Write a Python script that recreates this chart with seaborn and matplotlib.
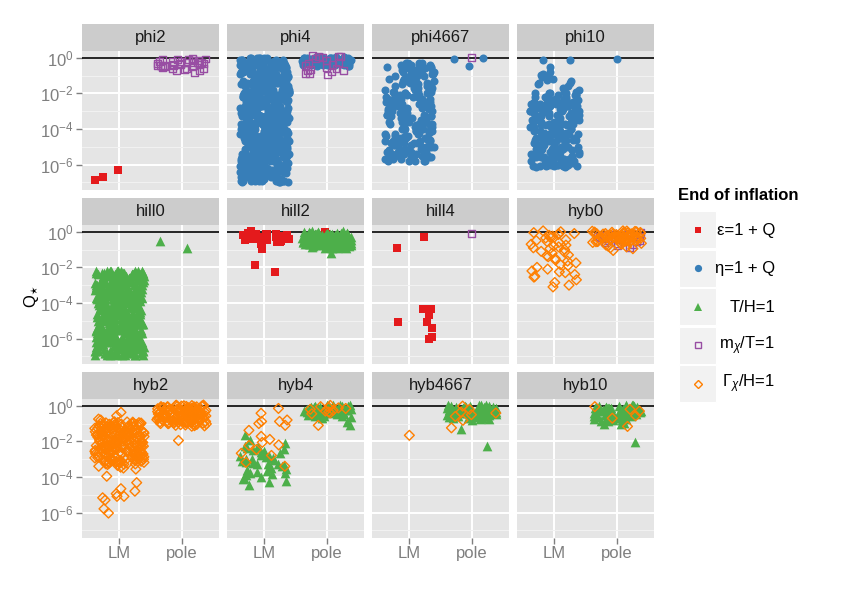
import numpy as np
import pandas as pd
import matplotlib
matplotlib.use("Agg")
import matplotlib.pyplot as plt
import seaborn as sns
from matplotlib.ticker import FixedLocator, NullFormatter, FixedFormatter
from matplotlib.patches import Rectangle

# ---------------- data (log10 of Q_star) ----------------
models = ["phi2", "phi4", "phi4667", "phi10", "hill0", "hill2", "hill4", "hyb0",
          "hyb2", "hyb4", "hyb4667", "hyb10"]
end_types = ["eps", "eta", "TH", "mchi", "Gam"]
classes = ["LM", "pole"]
tick_exps = [0, -2, -4, -6]
minor_exps = [-1, -3, -5, -7]
tick_labels = [r"$10^{0}$", r"$10^{-2}$", r"$10^{-4}$", r"$10^{-6}$"]
legend_title = "End of inflation"
legend_labels = ["ε=1 + Q", "η=1 + Q", "T/H=1", r"m$_{\chi}$/T=1", r"$\Gamma_{\chi}$/H=1"]

phi2_eps_LM = [-6.72, -6.89, -6.31]
phi2_mchi_pole = [-0.05, -0.12, -0.31, -0.45, -0.22, -0.6, -0.38, -0.15, -0.52, -0.28, -0.7, -0.41,
                  -0.09, -0.33, -0.56, -0.19, -0.48, -0.82, -0.25, -0.36, -0.63, -0.11, -0.44, -0.29,
                  -0.58, -0.2, -0.39, -0.74, -0.16, -0.5, -0.27, -0.66, -0.34, -0.07, -0.43]

phi4_eta_LM = [
    -0.0, -0.4, -0.8, -1.1, -1.5, -1.8, -2.2, -2.5, -2.9, -3.2, -3.6, -3.9, -4.3, -4.6, -5.0, -5.3, -5.7, -6.0, -6.4, -6.8,
    -0.2, -0.5, -0.9, -1.3, -1.6, -2.0, -2.3, -2.7, -3.0, -3.4, -3.7, -4.1, -4.4, -4.8, -5.1, -5.5, -5.8, -6.2, -6.5, -6.9,
    -0.1, -0.3, -0.7, -1.0, -1.4, -1.7, -2.1, -2.4, -2.8, -3.1, -3.5, -3.8, -4.2, -4.5, -4.9, -5.2, -5.6, -5.9, -6.3, -6.6,
    -0.6, -1.2, -1.9, -2.6, -3.3, -4.0, -4.7, -5.4, -6.1, -6.7, -0.3, -1.0, -1.6, -2.3, -3.0, -3.6, -4.4, -5.0, -5.7, -6.4,
    -0.0, -0.9, -1.5, -2.4, -2.9, -3.7, -4.2, -4.9, -5.5, -6.2, -7.0, -0.5, -1.2, -1.8, -2.7, -3.4, -4.1, -4.6, -5.3, -6.0,
    -0.2, -0.8, -1.4, -2.0, -2.6, -3.2, -3.9, -4.5, -5.1, -5.8, -6.5, -0.6, -1.1, -1.7, -2.2, -2.9, -3.5, -4.3, -4.8, -5.6,
    -6.9, -6.3, -5.9, -5.2, -4.7, -4.0, -3.3, -2.8, -2.1, -1.6, -0.9, -0.4, -6.6, -5.4, -4.4, -3.7, -3.0, -2.5, -1.3, -0.7,
    -0.1, -0.6, -1.3, -1.9, -2.4, -3.1, -3.6, -4.2, -4.9, -5.5, -6.1, -6.8, -0.3, -1.0, -1.8, -2.6, -3.3, -4.0, -4.7, -5.9,
    -6.7, -6.0, -5.4, -4.8, -4.1, -3.5, -2.9, -2.3, -1.7, -1.1, -0.5, -0.0, -6.4, -5.7, -5.0, -4.5, -3.8, -3.2, -2.0, -1.4,
    -0.4, -0.9, -1.6, -2.2, -2.8, -3.4, -4.1, -4.6, -5.3, -5.8, -6.5, -7.0, -0.7, -1.5, -2.5, -3.1, -3.9, -4.8, -5.6, -6.2,
    -0.2, -1.1, -1.8, -2.6, -3.5, -4.3, -5.1, -5.9, -6.6, -0.8, -1.4, -2.1, -2.9, -3.7, -4.6, -5.4, -6.1, -6.9, -0.5, -3.2,
    -6.3, -5.5, -4.7, -3.9, -3.0, -2.3, -1.5, -0.6, -0.1, -1.2, -2.0, -2.7, -3.6, -4.4, -5.2, -6.0, -6.8, -4.9, -1.9, -0.3,
    -0.0, -0.7, -1.4, -2.1, -2.9, -3.6, -4.2, -5.0, -5.7, -6.4, -6.9, -0.4, -1.2, -1.9, -2.5, -3.3, -4.0, -4.7, -5.3, -6.1,
    -6.6, -5.8, -5.1, -4.5, -3.8, -3.1, -2.4, -1.7, -1.0, -0.2, -0.8, -1.6, -2.3, -3.0, -3.7, -4.3, -5.2, -5.9, -6.5, -4.1,
    -0.5, -1.3, -2.0, -2.8, -3.4, -4.1, -4.9, -5.6, -6.3, -7.0, -0.1, -0.9, -1.5, -2.2, -3.0, -3.8, -4.6, -5.4, -6.2, -6.7,
    -0.3, -1.1, -1.9, -2.7, -3.5, -4.2, -4.8, -5.5, -6.0, -6.8, -0.6, -1.4, -2.2, -2.9, -3.6, -4.4, -5.1, -5.8, -6.4, -2.4,
    -6.9, -6.1, -5.3, -4.6, -3.9, -3.2, -2.5, -1.8, -1.0, -0.2, -0.7, -1.6, -2.1, -3.1, -3.7, -4.5, -5.0, -5.7, -6.6, -4.0,
    -0.0, -0.6, -1.2, -1.7, -2.3, -2.9, -3.4, -4.0, -4.7, -5.2, -5.9, -6.5, -0.4, -1.0, -1.8, -2.6, -3.3, -4.3, -5.5, -6.3,
    -0.8, -1.5, -2.4, -3.0, -3.8, -4.4, -5.1, -5.7, -6.4, -6.9, -0.1, -0.5, -1.3, -2.0, -2.8, -3.5, -4.1, -4.9, -5.6, -6.2,
    -0.3, -0.9, -1.7, -2.5, -3.2, -3.9, -4.6, -5.3, -6.0, -6.7, -0.2, -1.1, -1.9, -2.7, -3.4, -4.2, -5.0, -5.8, -6.5, -3.6,
    -6.8, -6.2, -5.6, -4.9, -4.3, -3.6, -3.0, -2.3, -1.6, -0.9, -0.4, -0.0, -1.4, -2.2, -2.9, -3.7, -4.5, -5.2, -5.9, -6.6,
    -0.6, -1.2, -2.0, -2.6, -3.3, -4.0, -4.8, -5.4, -6.1, -6.9, -0.2, -0.8, -1.5, -2.1, -2.8, -3.5, -4.2, -4.6, -5.5, -6.3,
    -0.3, -1.0, -1.7, -2.4, -3.1, -3.8, -4.5, -5.2, -5.9, -6.6, -0.7, -1.4, -2.1, -2.8, -3.5, -4.2, -4.9, -5.6, -6.3, -7.0,
    -0.1, -0.8, -1.5, -2.2, -2.9, -3.6, -4.3, -5.0, -5.7, -6.4, -0.5, -1.2, -1.9, -2.6, -3.3, -4.0, -4.7, -5.4, -6.1, -6.8,
    -6.9, -6.2, -5.5, -4.8, -4.1, -3.4, -2.7, -2.0, -1.3, -0.6, -6.5, -5.8, -5.1, -4.4, -3.7, -3.0, -2.3, -1.6, -0.9, -0.2,
    -0.4, -1.1, -1.8, -2.5, -3.2, -3.9, -4.6, -5.3, -6.0, -6.7, -0.0, -0.9, -1.6, -2.3, -3.0, -3.7, -4.4, -5.1, -5.8, -6.5,
    -6.8, -6.1, -5.4, -4.7, -4.0, -3.3, -2.6, -1.9, -1.2, -0.5, -6.4, -5.7, -5.0, -4.3, -3.6, -2.9, -2.2, -1.5, -0.8, -0.1,
    -0.3, -1.3, -2.0, -2.7, -3.4, -4.1, -4.8, -5.5, -6.2, -6.9, -0.6, -1.7, -2.5, -3.5, -4.5, -5.3, -6.0, -6.6, -0.2, -3.9]
phi4_eta_pole = [0.05, -0.05, -0.12, -0.2, -0.28, -0.35, -0.42, -0.02, -0.09, -0.16, -0.24, -0.31, -0.38, -0.45,
                 0.03, -0.07, -0.14, -0.22, -0.29, -0.36, -0.04, -0.11, -0.18, -0.26, -0.33, -0.4, 0.0, -0.08,
                 -0.15, -0.23, -0.3, -0.37, -0.44, -0.01, -0.1, -0.17, -0.25, -0.32, -0.39, -0.06, -0.13, -0.21,
                 -0.27, -0.34, -0.41, 0.02, -0.03, -0.12, -0.19, -0.26, -0.33, -0.43, -0.05, -0.09, -0.16, -0.22,
                 -0.29, -0.36, -0.47, 0.01, -0.07, -0.14, -0.2, -0.28, -0.35, -0.02, -0.11, -0.18, -0.25, -0.31,
                 -0.38, -0.04, -0.1, -0.15, -0.21, -0.3, 0.04, -0.06, -0.13, -0.24]
phi4_mchi_pole = [0.12, 0.08, 0.05, 0.02, 0.1, -0.02, -0.3, -0.45, -0.69, -0.72, -0.86, -0.9, -0.97, -0.6,
                  -0.55, -0.4, -0.15, -0.25, -0.8, -0.66]

phi4667_eta_LM = [
    -0.4, -0.8, -1.1, -1.5, -1.9, -2.2, -2.6, -2.9, -3.3, -3.6, -4.0, -4.3, -4.7, -5.0, -5.4, -5.7, -0.6,
    -5.8, -5.3, -4.9, -4.4, -4.1, -3.7, -3.2, -2.8, -2.4, -2.0, -1.6, -1.2, -0.9, -0.5, -3.9, -2.5, -1.4,
    -0.3, -0.7, -1.3, -1.8, -2.3, -2.7, -3.1, -3.5, -4.2, -4.6, -5.1, -5.5, -5.8, -1.0, -2.1, -3.0, -4.8,
    -5.6, -5.2, -4.5, -3.8, -3.4, -2.9, -2.5, -1.7, -1.3, -0.8, -0.4, -1.9, -2.6, -4.1, -4.9, -5.4, -3.6,
    -0.5, -0.9, -1.5, -2.0, -2.4, -3.0, -3.4, -3.9, -4.4, -4.8, -5.3, -5.7, -1.1, -1.7, -2.8, -4.3, -0.3,
    -5.5, -5.0, -4.6, -4.0, -3.7, -3.1, -2.6, -2.2, -1.6, -1.2, -0.6, -0.4, -1.9, -3.3, -4.7, -5.8, -2.9,
    -0.7, -1.0, -1.4, -2.1, -2.5, -3.2, -3.6, -4.1, -4.5, -5.0, -5.6, -0.5, -1.8, -2.7, -3.8, -4.9, -5.3,
    -5.7, -5.1, -4.4, -3.5, -2.9, -2.3, -1.5, -0.9, -0.4, -1.3, -2.0, -3.1, -4.2, -4.7, -5.4, -3.7, -2.6,
    -0.6, -1.2, -1.7, -2.4, -3.0, -3.4, -3.9, -4.3, -4.9, -5.5, -0.3, -1.0, -2.2, -2.8, -4.5, -5.2, -5.8,
    -5.4, -4.8, -4.1, -3.3, -2.7, -2.1, -1.4, -0.7, -0.5, -1.6, -2.5, -3.6, -4.6, -5.1, -5.6, -0.9, -3.8,
    -0.5, -1.3, -2.0, -2.7, -3.4, -4.0, -4.7, -5.3, -5.8, -0.8, -1.6, -2.3, -3.0, -3.7, -4.4, -5.0, -5.6,
    -0.4, -1.1, -1.8, -2.5, -3.2, -3.9, -4.6, -5.2, -5.7, -0.7, -1.4, -2.1, -2.9, -3.5, -4.2, -4.8, -5.5,
    -0.3, -1.9, -3.3, -4.5, -2.6, -1.0]
phi4667_eta_pole = [0.0, -0.47, -0.05]
phi4667_mchi_pole = [0.0]

phi10_eta_LM = [
    -0.5, -0.13, -0.13, -0.8, -0.9, -1.0, -1.1, -1.2, -1.3, -1.4, -1.5, -0.95, -1.25,
    -1.7, -2.0, -2.3, -2.6, -2.9, -3.2, -3.5, -3.8, -4.1, -4.4, -4.7, -5.0, -5.3, -5.6, -5.9,
    -6.1, -5.8, -5.5, -5.2, -4.9, -4.6, -4.3, -4.0, -3.7, -3.4, -3.1, -2.8, -2.5, -2.2, -1.9,
    -2.1, -2.4, -2.7, -3.0, -3.3, -3.6, -3.9, -4.2, -4.5, -4.8, -5.1, -5.4, -5.7, -6.0, -6.15,
    -6.0, -5.7, -5.3, -4.9, -4.5, -4.1, -3.7, -3.3, -2.9, -2.5, -2.1, -1.8, -3.5, -4.7, -5.5,
    -2.2, -2.6, -3.0, -3.4, -3.8, -4.2, -4.6, -5.0, -5.4, -5.8, -6.1, -2.4, -3.2, -4.4, -5.2,
    -6.1, -5.6, -5.1, -4.7, -4.3, -3.9, -3.5, -3.1, -2.7, -2.3, -2.0, -2.9, -4.0, -4.8, -5.9,
    -1.6, -2.2, -2.8, -3.3, -3.8, -4.3, -4.8, -5.3, -5.8, -6.1, -2.5, -3.0, -3.6, -4.4, -5.6,
    -6.0, -5.5, -5.0, -4.5, -4.0, -3.5, -3.0, -2.5, -2.0, -2.7, -3.4, -4.2, -5.1, -5.7, -6.15,
    -2.3, -2.9, -3.4, -3.9, -4.5, -5.0, -5.5, -6.0, -2.6, -3.1, -3.7, -4.3, -4.9, -5.4, -5.9,
    -6.1, -5.7, -5.2, -4.6, -4.1, -3.6, -3.2, -2.6, -2.1, -2.8, -3.5, -4.6, -5.3, -5.8, -6.0,
    -2.4, -3.0, -3.7, -4.3, -4.9, -5.5, -6.1, -2.7, -3.3, -3.9, -4.5, -5.1, -5.6, -6.0, -5.9,
    -2.0, -2.5, -3.0, -3.5, -4.0, -4.5, -5.0, -5.5, -6.0, -2.2, -2.7, -3.2, -3.7, -4.2, -4.7,
    -5.2, -5.7, -6.1, -2.4, -2.9, -3.4, -3.9, -4.4, -4.9, -5.4, -5.9, -2.1, -2.6, -3.1, -3.6,
    -4.1, -4.6, -5.1, -5.6, -6.05, -2.8, -3.3, -3.8, -4.3, -4.8, -5.3, -5.8, -1.9, -1.4, -1.1]
phi10_eta_pole = [-0.05]

hill0_TH_LM = [
    -2.2, -2.5, -2.8, -3.1, -3.4, -3.7, -4.0, -4.3, -4.6, -4.9, -5.2, -5.5, -5.8, -6.1, -6.4, -6.7,
    -2.3, -2.6, -2.9, -3.2, -3.5, -3.8, -4.1, -4.4, -4.7, -5.0, -5.3, -5.6, -5.9, -6.2, -6.5, -6.8,
    -2.4, -2.7, -3.0, -3.3, -3.6, -3.9, -4.2, -4.5, -4.8, -5.1, -5.4, -5.7, -6.0, -6.3, -6.6, -6.9,
    -6.8, -6.4, -5.9, -5.5, -5.0, -4.6, -4.1, -3.7, -3.2, -2.8, -2.3, -2.5, -3.5, -4.4, -5.3, -6.2,
    -2.2, -2.9, -3.6, -4.3, -5.0, -5.7, -6.4, -2.6, -3.3, -4.0, -4.7, -5.4, -6.1, -6.8, -3.0, -4.9,
    -6.6, -6.0, -5.2, -4.5, -3.8, -3.1, -2.4, -2.7, -3.4, -4.2, -4.8, -5.6, -6.3, -6.9, -2.2, -3.9,
    -2.5, -3.2, -3.8, -4.5, -5.1, -5.8, -6.5, -2.3, -2.9, -3.6, -4.3, -5.0, -5.6, -6.2, -6.8, -4.0,
    -6.7, -6.1, -5.4, -4.7, -4.1, -3.4, -2.7, -2.2, -3.0, -3.7, -4.4, -5.1, -5.8, -6.4, -2.5, -5.5,
    -2.4, -3.1, -3.9, -4.6, -5.3, -6.0, -6.7, -2.8, -3.5, -4.2, -4.9, -5.7, -6.3, -6.9, -2.2, -3.3,
    -6.5, -5.9, -5.2, -4.4, -3.7, -3.0, -2.3, -2.6, -3.4, -4.1, -4.8, -5.5, -6.2, -6.8, -4.6, -3.8,
    -2.3, -2.8, -3.4, -4.0, -4.6, -5.2, -5.8, -6.4, -6.9, -2.5, -3.1, -3.7, -4.3, -4.9, -5.5, -6.1,
    -6.6, -6.3, -5.7, -5.1, -4.5, -3.9, -3.3, -2.7, -2.2, -2.9, -3.5, -4.1, -4.7, -5.3, -5.9, -6.5,
    -2.4, -3.0, -3.6, -4.2, -4.8, -5.4, -6.0, -6.7, -2.6, -3.2, -3.8, -4.4, -5.0, -5.6, -6.2, -6.8,
    -6.9, -6.4, -5.8, -5.2, -4.6, -4.0, -3.4, -2.8, -2.3, -2.5, -3.1, -3.7, -4.3, -4.9, -5.5, -6.1,
    -2.2, -2.7, -3.3, -3.9, -4.5, -5.1, -5.7, -6.3, -6.8, -3.0, -3.6, -4.2, -4.8, -5.4, -6.0, -6.6,
    -6.7, -6.2, -5.6, -5.0, -4.4, -3.8, -3.2, -2.6, -2.3, -2.9, -3.5, -4.1, -4.7, -5.3, -5.9, -6.5,
    -2.5, -3.1, -3.7, -4.4, -5.0, -5.6, -6.2, -6.9, -2.4, -2.8, -3.4, -4.0, -4.6, -5.2, -5.8, -6.4,
    -6.8, -6.1, -5.5, -4.9, -4.3, -3.6, -3.0, -2.4, -2.2, -2.7, -3.3, -3.9, -4.5, -5.1, -5.7, -6.3,
    -2.3, -2.9, -3.5, -4.1, -4.7, -5.3, -5.9, -6.6, -2.6, -3.2, -3.8, -4.4, -5.0, -5.6, -6.2, -6.9,
    -6.5, -6.0, -5.4, -4.8, -4.2, -3.6, -3.0, -2.4, -2.8, -3.4, -4.0, -4.6, -5.2, -5.8, -6.4, -6.7,
    -2.2, -2.6, -3.0, -3.4, -3.8, -4.2, -4.6, -5.0, -5.4, -5.8, -6.2, -6.6, -2.4, -3.2, -4.4, -5.6,
    -6.9, -6.5, -6.1, -5.7, -5.3, -4.9, -4.5, -4.1, -3.7, -3.3, -2.9, -2.5, -6.3, -5.1, -3.9, -2.7,
    -2.3, -2.8, -3.3, -3.8, -4.3, -4.8, -5.3, -5.8, -6.3, -6.8, -2.5, -3.5, -4.5, -5.5, -6.5, -3.0,
    -6.7, -6.0, -5.2, -4.7, -4.0, -3.6, -3.1, -2.6, -2.2, -2.9, -3.7, -4.6, -5.4, -6.2, -6.9, -4.2,
    -2.4, -3.0, -3.6, -4.1, -4.7, -5.2, -5.7, -6.1, -6.6, -2.7, -3.4, -4.0, -4.8, -5.5, -6.4, -2.3,
    -6.8, -6.3, -5.6, -5.0, -4.4, -3.9, -3.2, -2.8, -2.2, -3.5, -4.3, -4.9, -5.9, -6.7, -2.6, -3.8]
hill0_TH_pole = [-0.53, -0.94]

hill2_eps_LM = [-0.1, -0.3, -0.2, -0.45, -0.15, -0.55, -0.25, -0.35, -0.6, -0.05, -0.4, -0.2, -0.5, -0.3,
                -0.7, -0.15, -0.35, -0.95, -0.25, -0.45, -0.1, -0.6, -0.3, -0.4, 0.05, -0.2, -1.84, -2.28]
hill2_eps_pole = [-0.15, 0.0]
hill2_TH_pole = [
    -0.02, -0.12, -0.25, -0.38, -0.51, -0.63, -0.77, -0.88, -0.08, -0.19, -0.31, -0.44, -0.57, -0.7, -0.83,
    -0.05, -0.16, -0.28, -0.4, -0.53, -0.66, -0.79, -0.9, -0.1, -0.22, -0.35, -0.47, -0.6, -0.73, 0.03,
    -0.13, -0.26, -0.39, -0.5, -0.62, -0.75, -0.86, -0.04, -0.18, -0.3, -0.42, -0.55, -0.68, -0.8, -0.09,
    -0.2, -0.33, -0.46, -0.58, -0.71, -0.84, -0.06, -0.15, -0.27, -0.41, -0.54, -0.65, -0.78, -0.92, -0.11,
    -0.01, -0.14, -0.24, -0.37, -0.49, -0.61, -0.74, -0.87, -0.07, -0.21, -0.34, -0.45, -0.59, -0.69, -0.82,
    -0.03, -0.17, -0.29, -0.43, -0.52, -0.64, -0.76, -0.89, -0.12, -0.23, -0.36, -0.48, -0.56, -0.72, -0.85,
    0.02, -0.1, -0.2, -0.32, -0.44, -0.57, -0.67, -0.81, -0.05, -0.16, -0.28, -0.39, -0.5, -0.63, -0.75,
    -0.08, -0.19, -0.3, -0.41, -0.53, -0.6, -0.7, -0.94, -0.14, -0.25, -0.37, -0.46, -0.58, -1.2, -0.65]

hill4_eps_LM = [-0.28, -0.94, -4.34, -4.64, -4.65, -4.34, -5.06, -5.09, -5.39, -5.9, -6.03]
hill4_mchi_pole = [-0.11]

hyb0_Gam_LM = [0.05, -0.05, -0.15, -0.1, -0.25, -0.2, 0.0, -0.3, -0.12, -0.35, -0.5, -0.6, -0.75, -0.45,
               -0.85, -0.9, -1.0, -1.1, -0.7, -1.2, -1.3, -1.4, -0.95, -1.15, -1.5, -1.6, -1.75, -1.35,
               -1.85, -2.0, -1.9, -2.1, -2.3, -2.25, -2.4, -2.5, -2.55, -2.7, -2.85, -3.0, -3.1, -2.2,
               -1.65, -0.55, -0.8]
hyb0_mchi_pole = [-0.1, -0.2, -0.3, -0.45, -0.55, -0.65, -0.8, -0.15, -0.25, -0.35, -0.5, -0.6, -0.4,
                  -0.7, -0.05, -0.9, -0.28, -0.38, -0.18, -0.48]
hyb0_Gam_pole = [0.05, -0.05, -0.15, -0.25, -0.35, -0.45, -0.55, 0.02, -0.08, -0.18, -0.28, -0.38, -0.48,
                 -0.6, 0.0, -0.1, -0.2, -0.3, -0.4, -0.5, -0.65, -0.03, -0.13, -0.23, -0.33, -0.43, -0.53,
                 -0.7, 0.04, -0.07, -0.17, -0.27, -0.37, -0.47, -0.58, -0.02, -0.12, -0.22, -0.32, -0.42,
                 -0.52, -0.75, -0.06, -0.16, -0.26, -0.36, -0.46, -0.62, 0.03, -0.09, -0.19, -0.29, -0.39,
                 -0.49, -0.85, -0.95, -1.05, -0.8, -0.04, -0.14, -0.24, -0.34, -0.44, -0.56, -0.9, -0.11,
                 -0.21, -0.31, -0.41, -0.68]

hyb2_Gam_LM = [
    -0.9, -1.07, -1.2, -1.33, -1.52, -1.64, -1.81, -1.95, -2.12, -2.24, -2.41, -2.56, -2.69, -2.86, -3.01, -3.14,
    -0.95, -1.11, -1.26, -1.38, -1.55, -1.71, -1.84, -2.0, -2.17, -2.3, -2.44, -2.61, -2.74, -2.91, -3.04, -3.2,
    -1.01, -1.16, -1.29, -1.46, -1.6, -1.76, -1.9, -2.06, -2.2, -2.36, -2.5, -2.66, -2.8, -2.96, -3.11, -3.26,
    -3.2, -2.9, -2.6, -2.3, -2.0, -1.7, -1.4, -1.1, -0.92, -1.23, -1.52, -1.83, -2.12, -2.42, -2.72, -3.02,
    -0.98, -1.28, -1.58, -1.88, -2.18, -2.48, -2.78, -3.08, -1.13, -1.43, -1.73, -2.03, -2.33, -2.63, -2.93, -3.3,
    -3.12, -2.82, -2.52, -2.22, -1.92, -1.62, -1.32, -1.02, -1.17, -1.47, -1.77, -2.07, -2.37, -2.67, -2.97, -0.93,
    -1.07, -1.37, -1.67, -1.97, -2.27, -2.57, -2.87, -3.17, -0.96, -1.26, -1.56, -1.86, -2.16, -2.46, -2.76, -3.06,
    -3.27, -2.97, -2.67, -2.37, -2.07, -1.77, -1.47, -1.17, -1.04, -1.34, -1.64, -1.94, -2.24, -2.54, -2.84, -3.14,
    -0.91, -1.21, -1.51, -1.81, -2.11, -2.41, -2.71, -3.01, -1.09, -1.39, -1.69, -1.99, -2.29, -2.59, -2.89, -3.19,
    -3.04, -2.74, -2.44, -2.14, -1.84, -1.54, -1.24, -0.94, -1.14, -1.44, -1.74, -2.04, -2.34, -2.64, -2.94, -3.24,
    -0.97, -1.27, -1.57, -1.87, -2.17, -2.47, -2.77, -3.07, -1.12, -1.42, -1.72, -2.02, -2.32, -2.62, -2.92, -3.22,
    -3.09, -2.79, -2.49, -2.19, -1.89, -1.59, -1.29, -0.99, -1.19, -1.49, -1.79, -2.09, -2.39, -2.69, -2.99, -3.29,
    -1.03, -1.33, -1.63, -1.93, -2.23, -2.53, -2.83, -3.13, -1.08, -1.38, -1.68, -1.98, -2.28, -2.58, -2.88, -3.18,
    -0.37, -0.56, -0.75, -0.8, -3.35, -3.45, -3.56, -3.4, -3.5, -3.96, -4.32, -4.66, -4.8, -4.94, -5.09,
    -5.3, -5.17, -5.79, -5.09, -6.03]
hyb2_Gam_pole = [
    0.02, -0.08, -0.17, -0.26, -0.35, -0.44, -0.53, -0.62, -0.71, -0.8, -0.89, -0.98, -1.08,
    -0.03, -0.12, -0.21, -0.3, -0.39, -0.48, -0.57, -0.66, -0.75, -0.84, -0.93, -1.02, -1.13,
    0.04, -0.05, -0.14, -0.24, -0.33, -0.41, -0.5, -0.6, -0.69, -0.77, -0.87, -0.96, -1.05,
    -0.01, -0.1, -0.19, -0.28, -0.37, -0.46, -0.55, -0.64, -0.73, -0.82, -0.91, -1.0, -1.15,
    0.01, -0.06, -0.15, -0.23, -0.32, -0.42, -0.51, -0.59, -0.68, -0.78, -0.86, -0.95, -1.1,
    -0.04, -0.11, -0.2, -0.29, -0.38, -0.47, -0.56, -0.65, -0.74, -0.83, -0.92, -1.01, -0.02,
    0.03, -0.07, -0.16, -0.25, -0.34, -0.43, -0.52, -0.61, -0.7, -0.79, -0.88, -0.97, -1.06,
    -0.02, -0.09, -0.18, -0.27, -0.36, -0.45, -0.54, -0.63, -0.72, -0.81, -0.9, -0.99, -1.12,
    0.0, -0.13, -0.22, -0.31, -0.4, -0.49, -0.58, -0.67, -0.76, -0.85, -0.94, -1.04, -0.45,
    -0.05, -0.14, -0.23, -0.33, -0.42, -0.5, -0.6, -0.7, -0.8, -0.9, -0.35, -0.25, -1.95]

hyb4_TH_LM = [-1.95, -1.67, -2.1, -2.25, -2.35, -2.4, -2.5, -2.55, -2.6, -2.7, -2.75, -2.8, -2.85, -2.9,
              -3.0, -3.05, -3.1, -3.15, -3.2, -3.25, -3.3, -3.35, -3.4, -3.5, -3.55, -3.6, -3.7, -3.75,
              -3.8, -3.9, -4.0, -4.1, -4.2, -4.3, -4.45, -2.45, -2.65, -2.95, -3.45, -3.65, -3.85, -4.05,
              -2.3, -3.0, -3.3]
hyb4_Gam_LM = [-0.15, -0.42, -0.88, -0.8, -1.38, -0.88, -1.1, -1.72, -1.89, -2.23, -2.79, -3.18, -3.4,
               -2.67, -2.46, -2.06, -2.2, -1.0]
hyb4_TH_pole = [0.05, -0.02, -0.08, -0.14, -0.2, -0.26, -0.32, -0.38, -0.44, -0.5, 0.02, -0.05, -0.11,
                -0.17, -0.23, -0.29, -0.35, -0.41, -0.47, -0.55, 0.0, -0.04, -0.1, -0.16, -0.22, -0.28,
                -0.34, -0.4, -0.46, -0.52, 0.03, -0.07, -0.13, -0.19, -0.25, -0.31, -0.37, -0.43, -0.6,
                -0.01, -0.06, -0.12, -0.18, -0.24, -0.3, -0.36, -0.42, -0.48, -0.65, 0.04, -0.09, -0.15,
                -0.21, -0.27, -0.33, -0.39, -0.7, -0.03, -0.13, -0.2, -0.45, -0.58, -1.1, -0.94]
hyb4_Gam_pole = [-0.05, -0.15, -0.25, -0.35, -0.1, -0.3, -0.45, 0.02, -0.2, -1.1, -0.4, -0.12]

hyb4667_Gam_LM = [-1.66]
hyb4667_TH_pole = [0.05, -0.03, -0.1, -0.17, -0.24, -0.31, -0.38, -0.45, -0.52, -0.6, -0.68, 0.02, -0.06,
                   -0.13, -0.2, -0.27, -0.34, -0.41, -0.48, -0.56, -0.64, -0.75, 0.0, -0.08, -0.15, -0.22,
                   -0.29, -0.36, -0.43, -0.5, -0.58, -0.7, 0.04, -0.05, -0.12, -0.19, -0.26, -0.33, -0.4,
                   -0.47, -0.54, -0.62, -0.8, -0.01, -0.09, -0.16, -0.23, -0.3, -0.37, -0.44, -0.51, -0.66,
                   0.03, -0.11, -0.18, -0.25, -0.32, -0.39, -0.46, -0.55, -0.72, -0.04, -0.14, -0.21, -0.28,
                   -0.35, -0.42, -0.49, -1.3, -2.24]
hyb4667_Gam_pole = [-0.41, -0.35, -1.24, -0.82, -0.5, -0.6, -0.2, -0.02]

hyb10_TH_pole = [0.04, -0.04, -0.11, -0.18, -0.25, -0.32, -0.39, -0.46, -0.53, -0.61, -0.7, -0.82, 0.01,
                 -0.07, -0.14, -0.21, -0.28, -0.35, -0.42, -0.49, -0.57, -0.66, -0.78, -0.95, 0.03, -0.02,
                 -0.09, -0.16, -0.23, -0.3, -0.37, -0.44, -0.51, -0.59, -0.74, -0.88, -0.05, -0.12, -0.19,
                 -0.26, -0.33, -0.4, -0.47, -0.55, -0.63, -1.0, 0.02, -0.08, -0.15, -0.22, -0.29, -0.36,
                 -0.43, -0.5, -0.68, -0.85, -0.01, -0.1, -0.2, -0.27, -0.34, -0.41, -0.48, -0.58, -0.72,
                 -1.05, -2.06]
hyb10_Gam_pole = [-0.56, -1.16, -0.7, -0.3, -0.05, -0.2]

series = [
    ("phi2", "eps", "LM", phi2_eps_LM), ("phi2", "mchi", "pole", phi2_mchi_pole),
    ("phi4", "eta", "LM", phi4_eta_LM), ("phi4", "eta", "pole", phi4_eta_pole),
    ("phi4", "mchi", "pole", phi4_mchi_pole),
    ("phi4667", "eta", "LM", phi4667_eta_LM), ("phi4667", "eta", "pole", phi4667_eta_pole),
    ("phi4667", "mchi", "pole", phi4667_mchi_pole),
    ("phi10", "eta", "LM", phi10_eta_LM), ("phi10", "eta", "pole", phi10_eta_pole),
    ("hill0", "TH", "LM", hill0_TH_LM), ("hill0", "TH", "pole", hill0_TH_pole),
    ("hill2", "eps", "LM", hill2_eps_LM), ("hill2", "eps", "pole", hill2_eps_pole),
    ("hill2", "TH", "pole", hill2_TH_pole),
    ("hill4", "eps", "LM", hill4_eps_LM), ("hill4", "mchi", "pole", hill4_mchi_pole),
    ("hyb0", "Gam", "LM", hyb0_Gam_LM), ("hyb0", "mchi", "pole", hyb0_mchi_pole),
    ("hyb0", "Gam", "pole", hyb0_Gam_pole),
    ("hyb2", "Gam", "LM", hyb2_Gam_LM), ("hyb2", "Gam", "pole", hyb2_Gam_pole),
    ("hyb4", "TH", "LM", hyb4_TH_LM), ("hyb4", "Gam", "LM", hyb4_Gam_LM),
    ("hyb4", "TH", "pole", hyb4_TH_pole), ("hyb4", "Gam", "pole", hyb4_Gam_pole),
    ("hyb4667", "Gam", "LM", hyb4667_Gam_LM), ("hyb4667", "TH", "pole", hyb4667_TH_pole),
    ("hyb4667", "Gam", "pole", hyb4667_Gam_pole),
    ("hyb10", "TH", "pole", hyb10_TH_pole), ("hyb10", "Gam", "pole", hyb10_Gam_pole),
]
rows = []
for m, e, c, vals in series:
    for v in vals:
        rows.append({"model": m, "end": e, "cls": c, "Q": 10.0 ** v})
df = pd.DataFrame(rows)

# ---------------- styling ----------------
plt.rcParams["font.family"] = ["Liberation Sans", "DejaVu Sans"]
plt.rcParams["mathtext.fontset"] = "custom"
plt.rcParams["mathtext.rm"] = "Liberation Sans"
plt.rcParams["mathtext.it"] = "Liberation Sans:italic"
plt.rcParams["mathtext.bf"] = "Liberation Sans:bold"

COLORS = {"eps": "#E41A1C", "eta": "#377EB8", "TH": "#4DAF4A", "mchi": "#984EA3", "Gam": "#FF7F00"}
STYLE = {
    "eps": dict(marker="s", size=5.3, linewidth=0),
    "eta": dict(marker="o", size=5.8, linewidth=0),
    "TH": dict(marker="^", size=7.0, linewidth=0),
    "mchi": dict(marker="s", size=5.0, linewidth=1.0, facecolor="none"),
    "Gam": dict(marker="D", size=5.0, linewidth=1.0, facecolor="none"),
}

W, H = 843, 602
fig = plt.figure(figsize=(W / 100, H / 100), dpi=100)
col_left = [82, 227, 372, 517]
row_top = [51, 225, 399]
PW, PH, SH = 137, 139, 27
GREY_TXT = "#7F7F7F"


def add_px(l, t, w, h):
    return fig.add_axes([l / W, 1 - (t + h) / H, w / W, h / H])


np.random.seed(11)
for i, m in enumerate(models):
    r, c = divmod(i, 4)
    ax = add_px(col_left[c], row_top[r], PW, PH)
    ax.set_facecolor("#E5E5E5")
    ax.set_yscale("log")
    for e in end_types:
        sub = df[(df["model"] == m) & (df["end"] == e)]
        if len(sub) == 0:
            continue
        st = dict(STYLE[e])
        col = COLORS[e]
        sns.stripplot(data=sub, x="cls", y="Q", order=classes, jitter=0.4, ax=ax,
                      color=col, edgecolor=col, zorder=3, **st)
    ax.axhline(1.0, color="black", lw=1.2, zorder=2)
    ax.set_xlim(-0.6, 1.6)
    ax.set_ylim(10 ** -7.43, 10 ** 0.38)
    ax.set_xlabel("")
    ax.set_ylabel("")
    ax.yaxis.set_major_locator(FixedLocator([10.0 ** k for k in tick_exps]))
    ax.yaxis.set_minor_locator(FixedLocator([10.0 ** k for k in minor_exps]))
    ax.yaxis.set_minor_formatter(NullFormatter())
    ax.xaxis.set_major_locator(FixedLocator([0, 1]))
    ax.set_axisbelow(True)
    ax.grid(True, which="major", axis="both", color="white", lw=1.4)
    ax.grid(True, which="minor", axis="y", color="#F2F2F2", lw=0.7)
    for s in ax.spines.values():
        s.set_visible(False)
    ax.tick_params(axis="y", which="minor", length=0)
    if c == 0:
        ax.yaxis.set_major_formatter(FixedFormatter(tick_labels))
        ax.tick_params(axis="y", which="major", length=4, width=1, color=GREY_TXT,
                       labelcolor=GREY_TXT, labelsize=12, pad=2)
    else:
        ax.tick_params(axis="y", which="major", length=0, labelleft=False)
    if r == 2:
        ax.set_xticklabels(classes)
        ax.tick_params(axis="x", length=4, width=1, color=GREY_TXT, labelcolor=GREY_TXT,
                       labelsize=12, pad=2)
    else:
        ax.tick_params(axis="x", length=0, labelbottom=False)

    sax = add_px(col_left[c], row_top[r] - SH, PW, SH)
    sax.set_facecolor("#CCCCCC")
    sax.set_xticks([])
    sax.set_yticks([])
    for s in sax.spines.values():
        s.set_visible(False)
    sax.text(0.5, 0.5, m, ha="center", va="center", fontsize=12, color="#1A1A1A",
             transform=sax.transAxes)

fig.text(32 / W, 1 - 297 / H, r"$\mathrm{Q}_{\star}$", rotation=90, ha="center", va="center",
         fontsize=12, color="black")

# ---------------- legend ----------------
lax = fig.add_axes([0, 0, 1, 1], zorder=5)
lax.set_xlim(0, W)
lax.set_ylim(H, 0)
lax.set_axis_off()
lax.text(678, 195, legend_title, fontsize=12, fontweight="bold", ha="left", va="center")
key_tops = [211, 249.5, 288, 326.5, 365]
for e, lab, top in zip(end_types, legend_labels, key_tops):
    lax.add_patch(Rectangle((679, top), 37, 37, facecolor="#F2F2F2", edgecolor="white", lw=0.8))
    st = STYLE[e]
    col = COLORS[e]
    fc = "none" if st.get("facecolor") == "none" else col
    lax.plot([697.5], [top + 18.5], ls="none", marker=st["marker"], ms=st["size"] * 0.9,
             mfc=fc, mec=col, mew=st["linewidth"] if st["linewidth"] > 0 else 0.0)
    lax.text(775, top + 19, lab, fontsize=12, ha="right", va="center")

fig.savefig("out.png", dpi=100)
